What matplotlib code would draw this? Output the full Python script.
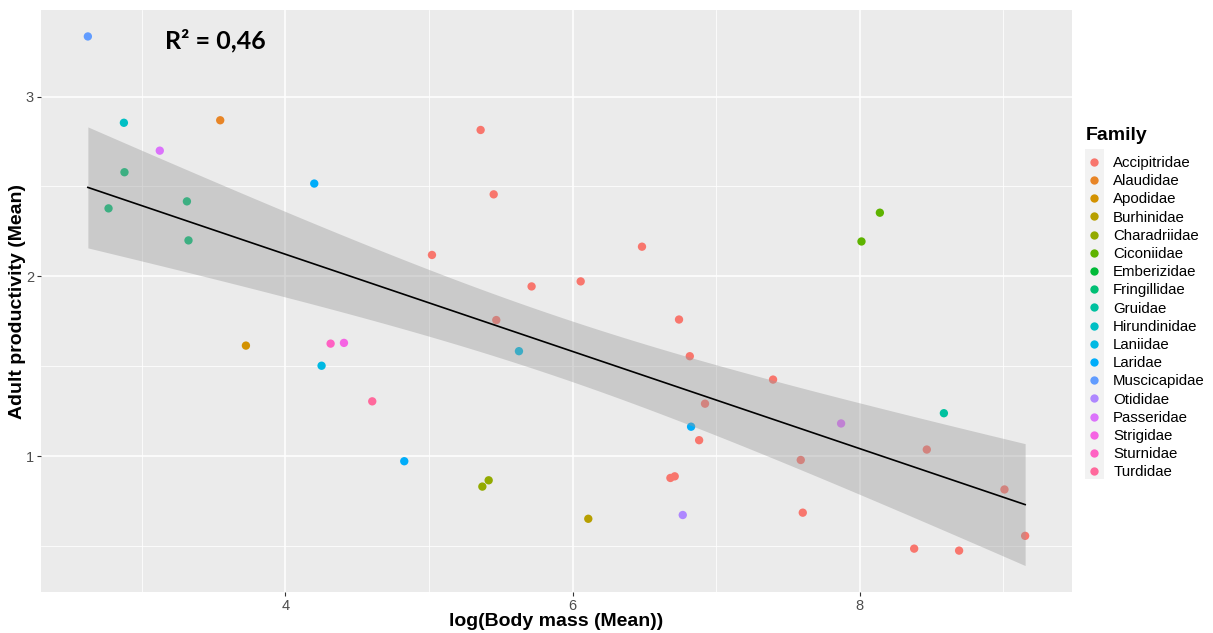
# Adult productivity vs log body mass, coloured by family, with lm fit + 95% CI
import math
import numpy as np
import matplotlib
matplotlib.use("Agg")
import matplotlib.pyplot as plt
from matplotlib.lines import Line2D
from matplotlib.patches import Rectangle

# DATA
###################################
families = ["Accipitridae", "Alaudidae", "Apodidae", "Burhinidae", "Charadriidae",
            "Ciconiidae", "Emberizidae", "Fringillidae", "Gruidae", "Hirundinidae",
            "Laniidae", "Laridae", "Muscicapidae", "Otididae", "Passeridae",
            "Strigidae", "Sturnidae", "Turdidae"]

log_mass = [5.360, 5.451, 5.021, 5.715, 6.057, 6.484, 5.469, 6.742, 6.817, 7.397,
            6.923, 6.882, 6.682, 6.712, 7.590, 7.604, 8.468, 9.009, 9.153, 8.380,
            8.693,
            3.546, 3.725, 6.110, 5.372, 5.416, 8.141, 8.013,
            2.879, 2.768, 3.314, 3.325, 8.587, 2.875,
            4.252, 5.627, 4.201, 4.828, 6.826, 2.624, 6.768,
            3.125, 7.871, 4.408, 4.315, 4.605]

productivity = [2.814, 2.456, 2.119, 1.944, 1.972, 2.165, 1.757, 1.760, 1.556, 1.426,
                1.292, 1.089, 0.879, 0.888, 0.979, 0.686, 1.037, 0.815, 0.557, 0.486,
                0.475,
                2.868, 1.615, 0.652, 0.831, 0.866, 2.354, 2.194,
                2.579, 2.378, 2.417, 2.200, 1.239, 2.854,
                1.503, 1.584, 2.516, 0.972, 1.164, 3.334, 0.673,
                2.699, 1.182, 1.630, 1.626, 1.305]

family = (["Accipitridae"] * 21 +
          ["Alaudidae", "Apodidae", "Burhinidae", "Charadriidae", "Charadriidae",
           "Ciconiidae", "Ciconiidae",
           "Fringillidae", "Fringillidae", "Fringillidae", "Fringillidae",
           "Gruidae", "Hirundinidae",
           "Laniidae", "Laniidae", "Laridae", "Laridae", "Laridae",
           "Muscicapidae", "Otididae", "Passeridae", "Passeridae",
           "Strigidae", "Sturnidae", "Turdidae"])

T_CRIT = 2.015  # t(0.975, df=44)


# function: hclColour
# purpose:  R's hcl() colour (polar Luv) as a hex string, like ggplot's hue_pal
def hclColour(h, c=100.0, l=65.0):
    xn, yn, zn = 95.047, 100.0, 108.883
    un = 4 * xn / (xn + 15 * yn + 3 * zn)
    vn = 9 * yn / (xn + 15 * yn + 3 * zn)
    u = c * math.cos(math.radians(h))
    v = c * math.sin(math.radians(h))
    y = yn * ((l + 16) / 116) ** 3
    up = u / (13 * l) + un
    vp = v / (13 * l) + vn
    x = 9 * y * up / (4 * vp)
    z = -x / 3 - 5 * y + 3 * y / vp
    x, y, z = x / 100, y / 100, z / 100
    rgb = [3.240479 * x - 1.537150 * y - 0.498535 * z,
           -0.969256 * x + 1.875992 * y + 0.041556 * z,
           0.055648 * x - 0.204043 * y + 1.057311 * z]
    out = []
    for ch in rgb:
        ch = 12.92 * ch if ch <= 0.0031308 else 1.055 * ch ** (1 / 2.4) - 0.055
        out.append(min(max(ch, 0), 1))
    return matplotlib.colors.to_hex(out)


n_fam = len(families)
palette = {f: hclColour(15 + 360 / n_fam * i) for i, f in enumerate(families)}

x = np.array(log_mass)
y = np.array(productivity)

# linear fit and confidence band
slope, intercept = np.polyfit(x, y, 1)
xs = np.linspace(x.min(), x.max(), 80)
fit = intercept + slope * xs
resid = y - (intercept + slope * x)
s = np.sqrt(np.sum(resid ** 2) / (len(x) - 2))
sxx = np.sum((x - x.mean()) ** 2)
se = s * np.sqrt(1 / len(x) + (xs - x.mean()) ** 2 / sxx)
lo = fit - T_CRIT * se
hi = fit + T_CRIT * se

# ggplot-style expanded limits
xr = x.max() - x.min()
ymin = min(y.min(), lo.min())
ymax = max(y.max(), hi.max())
yr = ymax - ymin

# PLOT
###################################
fig = plt.figure(figsize=(12.13, 6.33), dpi=100)
ax = fig.add_axes([41 / 1213, 1 - 592 / 633, (1072 - 41) / 1213, (592 - 10) / 633])
ax.set_facecolor("#EBEBEB")
for sp in ax.spines.values():
    sp.set_visible(False)

cols = [palette[f] for f in family]
ax.scatter(x, y, c=cols, s=36, linewidths=0, zorder=2)
ax.fill_between(xs, lo, hi, color="#999999", alpha=0.4, linewidth=0, zorder=3)
ax.plot(xs, fit, color="black", lw=1.2, zorder=4)

ax.set_xlim(x.min() - 0.05 * xr, x.max() + 0.05 * xr)
ax.set_ylim(ymin - 0.05 * yr, ymax + 0.05 * yr)
ax.set_xticks([4, 6, 8])
ax.set_xticks([3, 5, 7, 9], minor=True)
ax.set_yticks([1, 2, 3])
ax.set_yticks([0.5, 1.5, 2.5], minor=True)
ax.grid(which="major", color="white", lw=1.1)
ax.grid(which="minor", color="white", lw=0.55)
ax.set_axisbelow(True)
ax.tick_params(which="major", length=3, width=0.8, color="#333333",
               labelcolor="#4D4D4D", labelsize=10.5, pad=2)
ax.tick_params(which="minor", length=0)
for lab in ax.get_xticklabels() + ax.get_yticklabels():
    lab.set_fontfamily("Liberation Sans")

fig.text(556 / 1213, 1 - 621 / 633, "log(Body mass (Mean))", ha="center", va="center",
         fontsize=14, fontweight="bold", family="Liberation Sans")
fig.text(18 / 1213, 1 - 301 / 633, "Adult productivity (Mean)", ha="center", va="center",
         rotation=90, fontsize=14, fontweight="bold", family="Liberation Sans")

ax.text(0.169, 0.948, "R² = 0,46", transform=ax.transAxes, ha="center", va="center",
        fontsize=18, fontweight="bold", family="Lato")

# legend: title, grey key strip, entries
fig.text(1086 / 1213, 1 - 136 / 633, "Family", ha="left", va="center",
         fontsize=14, fontweight="bold", family="Liberation Sans")
fig.patches.append(Rectangle((1085 / 1213, 1 - 479 / 633), 19 / 1213, 330 / 633,
                             transform=fig.transFigure, facecolor="#F2F2F2",
                             edgecolor="none", zorder=0))
handles = [Line2D([], [], ls="", marker="o", markersize=6, markeredgewidth=0,
                  color=palette[f]) for f in families]
leg = fig.legend(handles, families, loc="upper left",
                 bbox_to_anchor=(1085 / 1213, 1 - 156 / 633), frameon=False,
                 handlelength=1.2, handletextpad=0.68, labelspacing=0.28,
                 borderpad=0, borderaxespad=0,
                 prop={"family": "Liberation Sans", "size": 10.8})

fig.savefig("out.png", dpi=100)
